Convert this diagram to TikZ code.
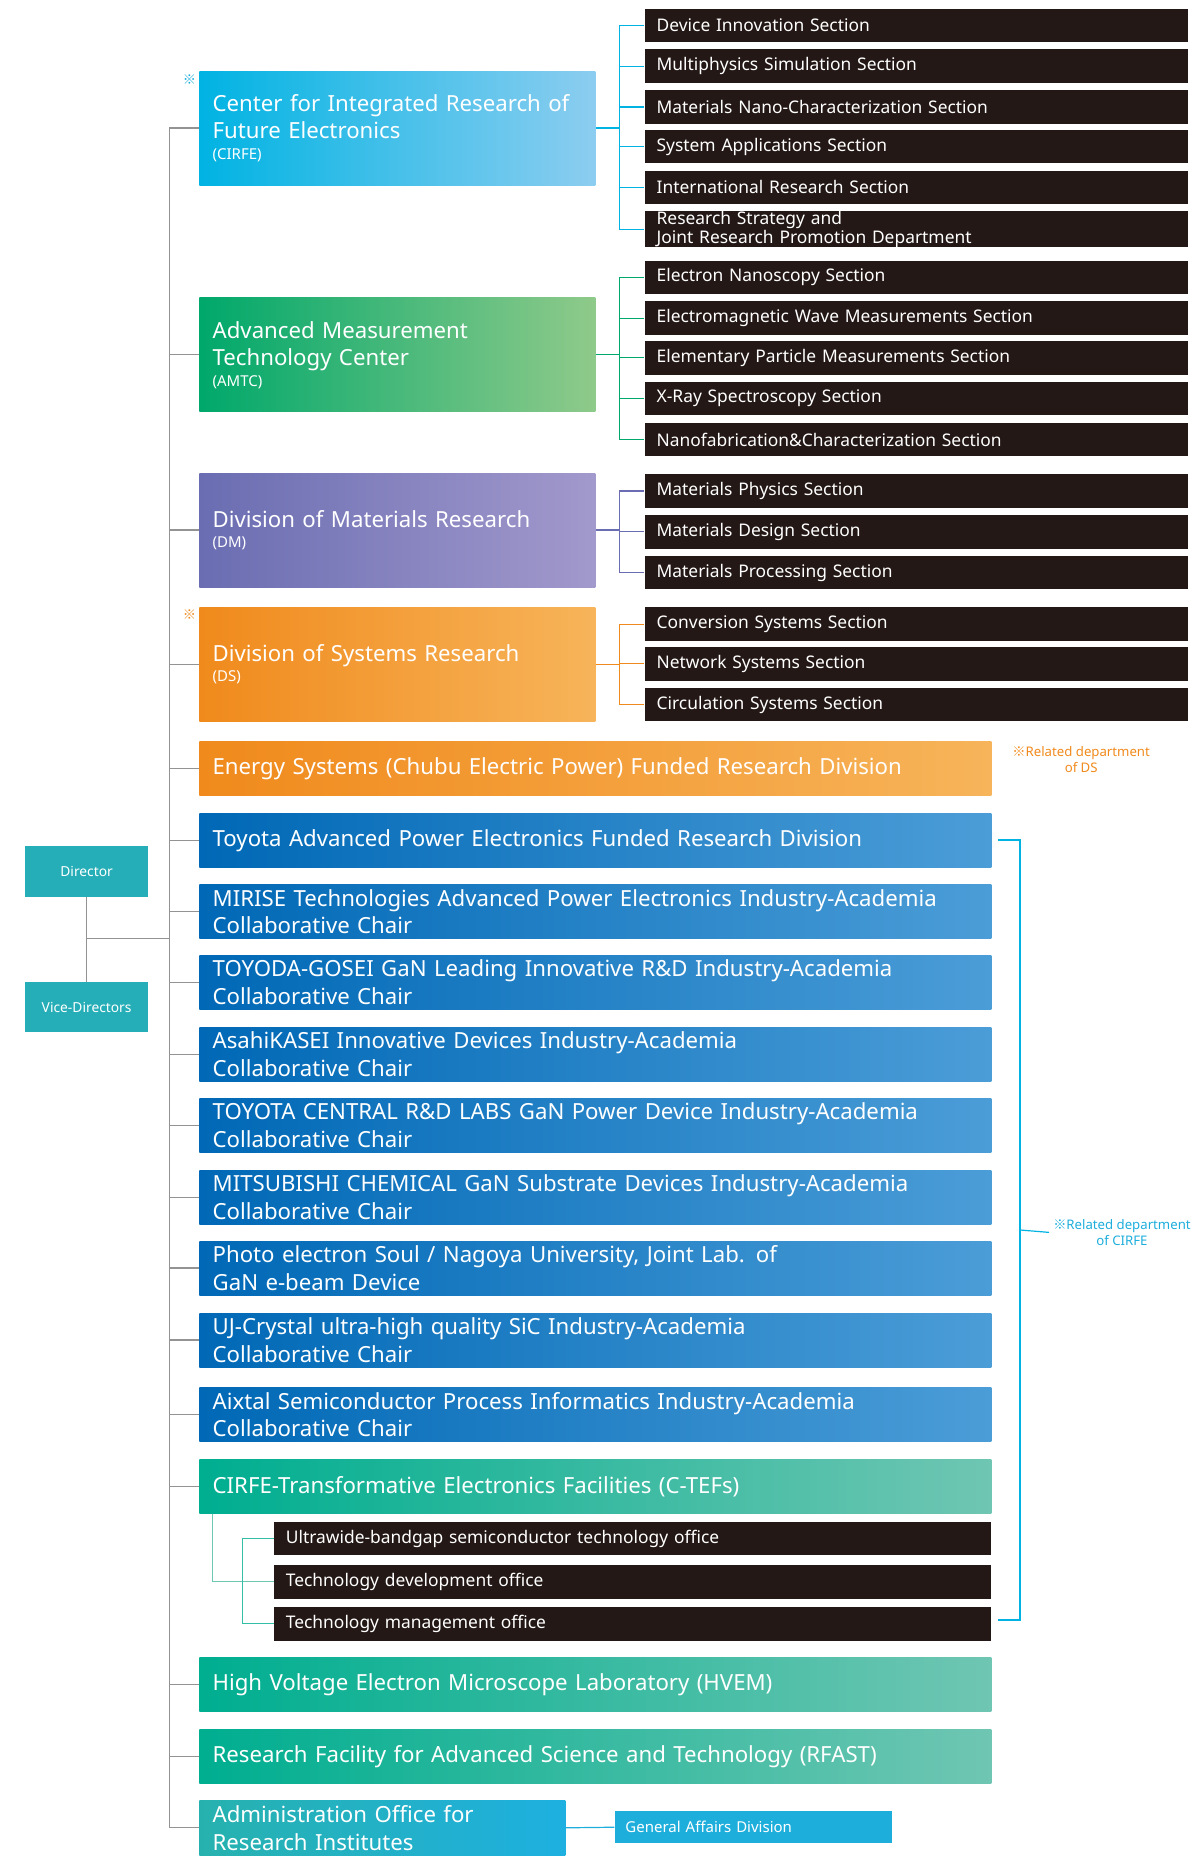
\documentclass[tikz,border=0pt]{standalone}
\usepackage{fontspec}
\setmainfont{Noto Sans}
\newfontfamily\cjk{Noto Sans CJK JP}
\definecolor{dk}{HTML}{231815}
\definecolor{cyA}{HTML}{00B3E3}\definecolor{cyB}{HTML}{8CCDF0}
\definecolor{grA}{HTML}{00A86B}\definecolor{grB}{HTML}{8FCA8A}
\definecolor{puA}{HTML}{6A6DB2}\definecolor{puB}{HTML}{A299CC}
\definecolor{orA}{HTML}{F08A1C}\definecolor{orB}{HTML}{F7B45A}
\definecolor{blA}{HTML}{0068B6}\definecolor{blB}{HTML}{4B9DD7}
\definecolor{teA}{HTML}{00AE90}\definecolor{teB}{HTML}{6FC6B2}
\definecolor{adA}{HTML}{27B1AE}\definecolor{adB}{HTML}{1EB0E0}
\definecolor{gad}{HTML}{1EAEDC}
\definecolor{dir}{HTML}{26AEB8}
\definecolor{orT}{HTML}{F08A1C}
\definecolor{cyT}{HTML}{1EAEDC}
\begin{document}
\begin{tikzpicture}[x=1pt,y=-1pt,
  dbox/.style={fill=dk,text=white,font=\fontsize{14.5}{13}\selectfont,minimum height=28pt,inner xsep=10pt,inner ysep=0pt,text width=433pt,align=left,anchor=north west},
  obox/.style={fill=dk,text=white,font=\fontsize{14.5}{13}\selectfont,minimum height=28pt,inner xsep=10pt,inner ysep=0pt,text width=578pt,align=left,anchor=north west},
  gbox/.style={text=white,font=\fontsize{18.5}{23}\selectfont,inner xsep=11pt,inner ysep=0pt,align=left,anchor=north west},
  big/.style={gbox,minimum width=330pt,text width=308pt,minimum height=95pt},
  wide/.style={gbox,minimum width=660pt,text width=638pt,minimum height=45pt},
  blue/.style={wide,left color=blA,right color=blB},
  teal/.style={wide,left color=teA,right color=teB},
  dirbox/.style={fill=dir,text=white,font=\fontsize{11.5}{13}\selectfont,minimum width=102pt,minimum height=42pt,anchor=north west},
  gl/.style={draw=gray!85,line width=1pt},
  sub/.style={fontsize},
  small/.style={font=\fontsize{12.5}{14}\selectfont}
]
\useasboundingbox (0,0) rectangle (1000,1556.7);
% trunk coordinates
\coordinate (trunk) at (141,0);
\coordinate (bus) at (516,0);
% Director
\node[dirbox] (dir) at (21,705) {Director};
\node[dirbox] (vdir) at (21,818) {Vice-Directors};
\draw[gl] (dir.south) -- (vdir.north);
\coordinate (dmid) at (72,782);
\draw[gl] (dmid) -- (dmid -| trunk);
% big boxes
\node[big,left color=cyA,right color=cyB] (cirfe) at (166,59) {Center for Integrated Research of\\Future Electronics\\[-6pt]{\fontsize{12.5}{14}\selectfont (CIRFE)}\\[10pt]};
\node[big,left color=grA,right color=grB] (amtc) at (166,248) {Advanced Measurement\\Technology Center\\[-6pt]{\fontsize{12.5}{14}\selectfont (AMTC)}\\[2pt]};
\node[big,left color=puA,right color=puB] (dm) at (166,394) {Division of Materials Research\\[-6pt]{\fontsize{12.5}{14}\selectfont (DM)}};
\node[big,left color=orA,right color=orB] (ds) at (166,506) {Division of Systems Research\\[-6pt]{\fontsize{12.5}{14}\selectfont (DS)}};
\node[text=cyT,font=\cjk\fontsize{11}{12}\selectfont] (m1) at (158,66) {※};
\node[text=orT,font=\cjk\fontsize{11}{12}\selectfont] (m2) at (158,512) {※};
% CIRFE sections
\node[dbox] (c1) at (537,7) {Device Innovation Section};
\node[dbox] (c2) at (537,41) {Multiphysics Simulation Section};
\node[dbox] (c3) at (537,75) {Materials Nano-Characterization Section};
\node[dbox] (c4) at (537,108) {System Applications Section};
\node[dbox] (c5) at (537,142) {International Research Section};
\node[dbox] (c6) at (537,176) {Research Strategy and\\Joint Research Promotion Department};
\draw[cyA,line width=1pt] (cirfe.east) -- (cirfe.east -| bus);
\draw[cyA,line width=1pt] (c1.west -| bus) -- (c6.west -| bus);
\foreach \n in {c1,c2,c3,c4,c5,c6} \draw[cyA,line width=1pt] (\n.west -| bus) -- (\n.west);
% AMTC sections
\node[dbox] (a1) at (537,217) {Electron Nanoscopy Section};
\node[dbox] (a2) at (537,251) {Electromagnetic Wave Measurements Section};
\node[dbox] (a3) at (537,284) {Elementary Particle Measurements Section};
\node[dbox] (a4) at (537,318) {X-Ray Spectroscopy Section};
\node[dbox] (a5) at (537,352) {Nanofabrication\&Characterization Section};
\draw[grA,line width=1pt] (amtc.east) -- (amtc.east -| bus);
\draw[grA,line width=1pt] (a1.west -| bus) -- (a5.west -| bus);
\foreach \n in {a1,a2,a3,a4,a5} \draw[grA,line width=1pt] (\n.west -| bus) -- (\n.west);
% DM sections
\node[dbox] (d1) at (537,395) {Materials Physics Section};
\node[dbox] (d2) at (537,429) {Materials Design Section};
\node[dbox] (d3) at (537,463) {Materials Processing Section};
\draw[puA,line width=1pt] (dm.east) -- (dm.east -| bus);
\draw[puA,line width=1pt] (d1.west -| bus) -- (d3.west -| bus);
\foreach \n in {d1,d2,d3} \draw[puA,line width=1pt] (\n.west -| bus) -- (\n.west);
% DS sections
\node[dbox] (s1) at (537,506) {Conversion Systems Section};
\node[dbox] (s2) at (537,539) {Network Systems Section};
\node[dbox] (s3) at (537,573) {Circulation Systems Section};
\draw[orA,line width=1pt] (ds.east) -- (ds.east -| bus);
\draw[orA,line width=1pt] (s1.west -| bus) -- (s3.west -| bus);
\foreach \n in {s1,s2,s3} \draw[orA,line width=1pt] (\n.west -| bus) -- (\n.west);
% wide boxes
\node[wide,left color=orA,right color=orB] (en) at (166,618) {Energy Systems (Chubu Electric Power) Funded Research Division};
\node[text=orT,font=\bfseries\fontsize{11}{13}\selectfont,align=center] (rds) at (901,633) {{\cjk ※}Related department\\of DS};
\node[blue] (b1) at (166,678) {Toyota Advanced Power Electronics Funded Research Division};
\node[blue] (b2) at (166,737) {MIRISE Technologies Advanced Power Electronics Industry-Academia\\Collaborative Chair};
\node[blue] (b3) at (166,796) {TOYODA-GOSEI GaN Leading Innovative R\&D Industry-Academia\\Collaborative Chair};
\node[blue] (b4) at (166,856) {AsahiKASEI Innovative Devices Industry-Academia\\Collaborative Chair};
\node[blue] (b5) at (166,915) {TOYOTA CENTRAL R\&D LABS GaN Power Device Industry-Academia\\Collaborative Chair};
\node[blue] (b6) at (166,975) {MITSUBISHI CHEMICAL GaN Substrate Devices Industry-Academia\\Collaborative Chair};
\node[blue] (b7) at (166,1034) {Photo electron Soul / Nagoya University, Joint Lab. of\\GaN e-beam Device};
\node[blue] (b8) at (166,1094) {UJ-Crystal ultra-high quality SiC Industry-Academia\\Collaborative Chair};
\node[blue] (b9) at (166,1156) {Aixtal Semiconductor Process Informatics Industry-Academia\\Collaborative Chair};
\node[teal] (ct) at (166,1216) {CIRFE-Transformative Electronics Facilities (C-TEFs)};
\node[obox] (o1) at (228,1268) {Ultrawide-bandgap semiconductor technology office};
\node[obox] (o2) at (228,1304) {Technology development office};
\node[obox] (o3) at (228,1339) {Technology management office};
\coordinate (ctx) at (177,0);
\coordinate (obus) at (202,0);
\draw[teB,line width=1pt] (ct.south west -| ctx) |- (o2.west);
\draw[teA!80,line width=1pt] (o1.west -| obus) -- (o3.west -| obus);
\draw[teA!80,line width=1pt] (o1.west -| obus) -- (o1.west);
\draw[teA!80,line width=1pt] (o3.west -| obus) -- (o3.west);
\node[teal] (hv) at (166,1381) {High Voltage Electron Microscope Laboratory (HVEM)};
\node[teal] (rf) at (166,1441) {Research Facility for Advanced Science and Technology (RFAST)};
\node[gbox,left color=adA,right color=adB,minimum width=305pt,text width=283pt,minimum height=46pt] (ad) at (166,1500) {Administration Office for\\Research Institutes};
\node[fill=gad,text=white,font=\fontsize{12.5}{14}\selectfont,minimum width=231pt,minimum height=27pt,inner xsep=9pt,text width=213pt,align=left,anchor=north west] (ga) at (512,1509) {General Affairs Division};
\draw[gad,line width=1pt] (ad.east) -- (ga.west);
% trunk
\draw[gl] (cirfe.west -| trunk) -- (ad.west -| trunk);
\foreach \n in {cirfe,amtc,dm,ds,en,b1,b2,b3,b4,b5,b6,b7,b8,b9,ct,hv,rf,ad} \draw[gl] (\n.west -| trunk) -- (\n.west);
% related CIRFE bracket
\coordinate (bt) at (850,700);
\coordinate (bb) at (850,1350);
\coordinate (bm) at (850,1025);
\coordinate (bti) at (832,700);
\coordinate (bbi) at (832,1350);
\draw[cyA,line width=1pt] (bti) -- (bt) -- (bb) -- (bbi);
\node[text=cyT,font=\bfseries\fontsize{11}{13}\selectfont,align=center] (rc) at (935,1027) {{\cjk ※}Related department\\of CIRFE};
\draw[cyA,line width=1pt] (bm) -- (rc.west);
\end{tikzpicture}
\end{document}
